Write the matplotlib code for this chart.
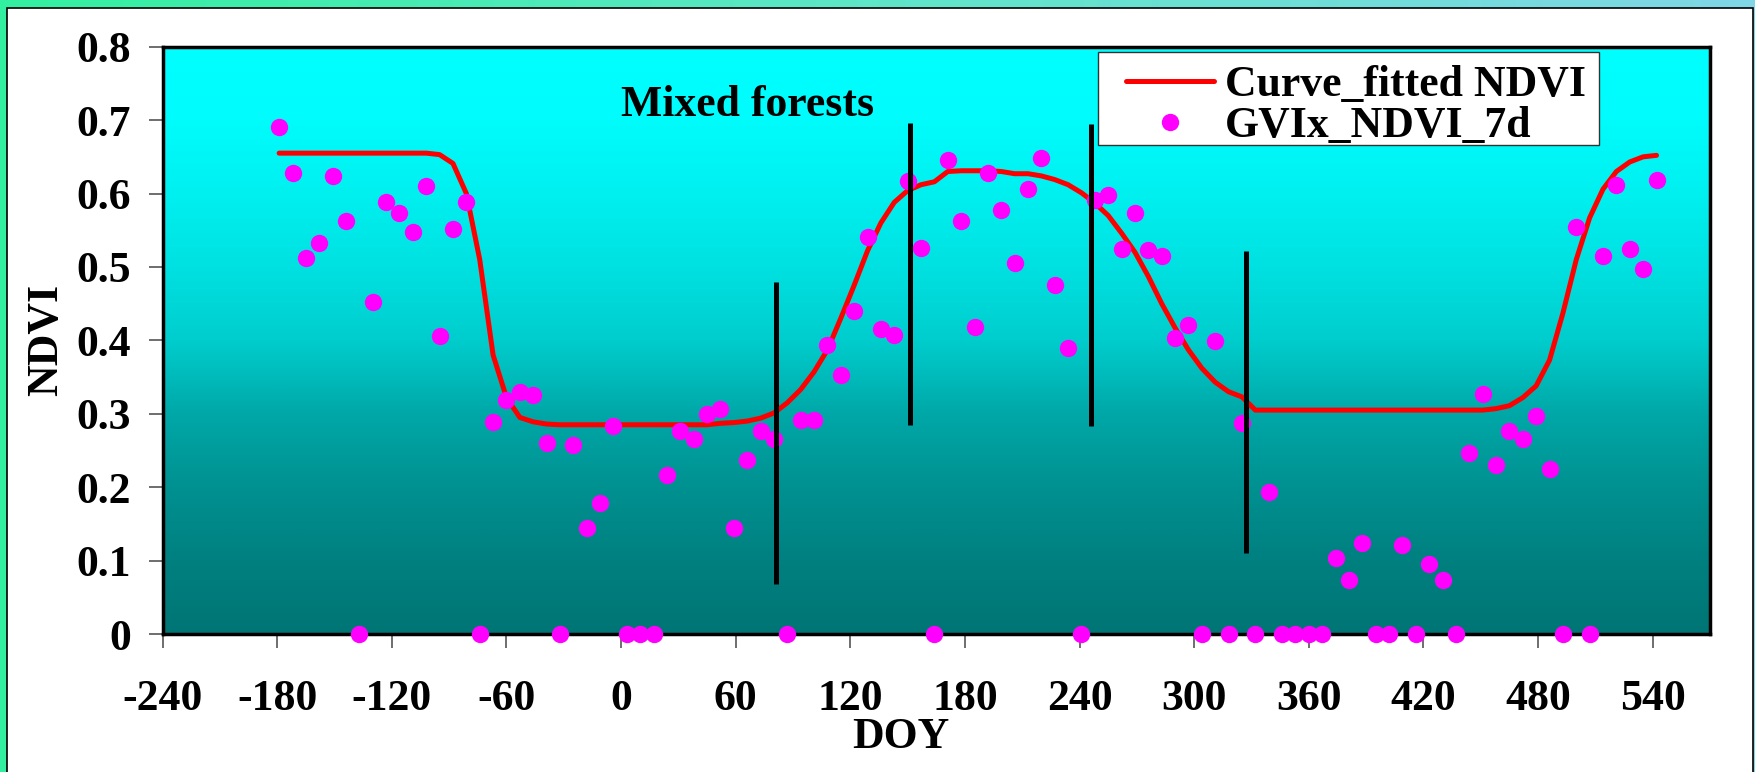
import numpy as np
import matplotlib
matplotlib.use('Agg')
import matplotlib.pyplot as plt
from matplotlib.colors import LinearSegmentedColormap
from matplotlib.patches import Rectangle

### Data
### -----------------------------
doy = [-179, -172, -165, -158, -151, -144, -137, -130, -123, -116, -109, -102,
       -95, -88, -81, -74, -67, -60, -53, -46, -39, -32, -25, -18, -11, -4,
       3, 10, 17, 24, 31, 38, 45, 52, 59, 66, 73, 80, 87, 94, 101, 108,
       115, 122, 129, 136, 143, 150, 157, 164, 171, 178, 185, 192, 199, 206,
       213, 220, 227, 234, 241, 248, 255, 262, 269, 276, 283, 290, 297, 304,
       311, 318, 325, 332, 339, 346, 353, 360, 367, 374, 381, 388, 395, 402,
       409, 416, 423, 430, 437, 444, 451, 458, 465, 472, 479, 486, 493, 500,
       507, 514, 521, 528, 535, 542]

ndvi_obs = [0.690, 0.628, 0.512, 0.533, 0.624, 0.563, 0.0, 0.452, 0.588, 0.573, 0.548, 0.610,
            0.406, 0.552, 0.588, 0.0, 0.289, 0.319, 0.330, 0.326, 0.260, 0.0, 0.257, 0.144, 0.179, 0.284,
            0.0, 0.0, 0.0, 0.216, 0.277, 0.266, 0.299, 0.306, 0.144, 0.237, 0.277, 0.266, 0.0, 0.291, 0.291, 0.393,
            0.353, 0.440, 0.541, 0.415, 0.407, 0.617, 0.526, 0.0, 0.646, 0.563, 0.418, 0.628, 0.577, 0.505,
            0.606, 0.649, 0.476, 0.389, 0.0, 0.591, 0.598, 0.525, 0.573, 0.523, 0.515, 0.403, 0.421, 0.0,
            0.399, 0.0, 0.287, 0.0, 0.193, 0.0, 0.0, 0.0, 0.0, 0.103, 0.074, 0.124, 0.0, 0.0,
            0.121, 0.0, 0.095, 0.074, 0.0, 0.247, 0.327, 0.230, 0.276, 0.265, 0.297, 0.225, 0.0, 0.554,
            0.0, 0.515, 0.612, 0.525, 0.497, 0.619]

ndvi_fit = [0.655, 0.655, 0.655, 0.655, 0.655, 0.655, 0.655, 0.655, 0.655, 0.655, 0.655, 0.655,
            0.653, 0.641, 0.600, 0.510, 0.380, 0.322, 0.295, 0.289, 0.286, 0.285, 0.285, 0.285, 0.285, 0.285,
            0.285, 0.285, 0.285, 0.285, 0.285, 0.285, 0.285, 0.287, 0.288, 0.290, 0.294, 0.301, 0.315, 0.333, 0.357, 0.387,
            0.430, 0.475, 0.522, 0.560, 0.588, 0.604, 0.612, 0.616, 0.630, 0.631, 0.631, 0.631, 0.630, 0.627,
            0.627, 0.624, 0.619, 0.612, 0.601, 0.587, 0.570, 0.546, 0.520, 0.487, 0.450, 0.417, 0.387, 0.362,
            0.343, 0.330, 0.323, 0.305, 0.305, 0.305, 0.305, 0.305, 0.305, 0.305, 0.305, 0.305, 0.305, 0.305,
            0.305, 0.305, 0.305, 0.305, 0.305, 0.305, 0.305, 0.307, 0.311, 0.322, 0.338, 0.373, 0.437, 0.510,
            0.567, 0.606, 0.630, 0.643, 0.650, 0.652]

### Season boundary markers
bound_doy = [81, 151, 246, 327]
bound_lo = [0.068, 0.285, 0.284, 0.111]
bound_hi = [0.479, 0.696, 0.695, 0.522]

x_ticks = [-240, -180, -120, -60, 0, 60, 120, 180, 240, 300, 360, 420, 480, 540]
y_ticks = [0, 0.1, 0.2, 0.3, 0.4, 0.5, 0.6, 0.7, 0.8]
y_labels = ['0', '0.1', '0.2', '0.3', '0.4', '0.5', '0.6', '0.7', '0.8']

### Style
### -----
plt.rcParams['font.family'] = ['Liberation Serif', 'DejaVu Serif']
plt.rcParams['font.weight'] = 'bold'
FS = 31.5

fig = plt.figure(figsize=(17.56, 7.72), dpi=100)

### Outer frame: green/blue band with a white panel on top
bg = fig.add_axes([0, 0, 1, 1], zorder=-5)
frame_cmap = LinearSegmentedColormap.from_list('frame', ['#33f0a0', '#5ee6c8', '#80d6e6'])
bg.imshow(np.linspace(0, 1, 256)[None, :], cmap=frame_cmap, aspect='auto',
          extent=[0, 1, 0, 1], origin='lower')
bg.add_patch(Rectangle((7.5/1756, -0.02), (1753 - 7.5)/1756, 1.02 - 7.5/772,
                       facecolor='white', edgecolor='black', lw=1.2))
bg.set_xlim(0, 1)
bg.set_ylim(0, 1)
bg.axis('off')

### Plot area
ax = fig.add_axes([162.6/1756, 1 - 634/772, (1710 - 162.6)/1756, (634 - 46.7)/772])
plot_cmap = LinearSegmentedColormap.from_list(
    'plotbg', [(0.0, '#007575'), (0.125, '#008080'), (0.25, '#009191'),
               (0.375, '#00a8a8'), (0.5, '#00cdcd'), (0.625, '#00e1e1'),
               (0.75, '#00f0f0'), (0.875, '#00fcfc'), (1.0, '#00ffff')])
ax.imshow(np.linspace(0, 1, 256)[:, None], cmap=plot_cmap, aspect='auto',
          extent=[-240, 570, 0, 0.8], origin='lower', zorder=0, interpolation='bicubic')

ax.plot(doy, ndvi_fit, color='#ff0000', lw=3.6, solid_joinstyle='round',
        solid_capstyle='round', zorder=3, label='Curve_fitted NDVI')
ax.plot(doy, ndvi_obs, 'o', color='#ff00ff', ms=12.5, mec='none', zorder=4,
        clip_on=False, label='GVIx_NDVI_7d')
ax.vlines(bound_doy, bound_lo, bound_hi, colors='black', lw=3.6, zorder=5)

ax.text(0, 0.706, 'Mixed forests', fontsize=FS, fontweight='bold',
        ha='left', va='baseline', zorder=6)

### Axes decoration
ax.set_xlim(-240, 570)
ax.set_ylim(0, 0.8)
ax.set_xticks(x_ticks)
ax.set_xticklabels([str(t) for t in x_ticks])
ax.set_yticks(y_ticks)
ax.set_yticklabels(y_labels)
ax.tick_params(direction='out', length=10, width=1.2, color='#555555', labelsize=FS)
ax.tick_params(axis='x', pad=22.5)
ax.tick_params(axis='y', pad=13)
for s in ax.spines.values():
    s.set_linewidth(2.5)
    s.set_color('black')

ax.set_xlabel('DOY', fontsize=FS, fontweight='bold', va='center')
ax.xaxis.set_label_coords(0.477, -0.176)
ax.set_ylabel('NDVI', fontsize=FS, fontweight='bold', va='center')
ax.yaxis.set_label_coords(-0.0754, 0.5)

### Legend with a square white box
ax.add_patch(Rectangle((0.6045, 0.8326), 0.9283 - 0.6045, 0.991 - 0.8326,
                       transform=ax.transAxes, facecolor='white',
                       edgecolor='#333333', lw=1.0, zorder=7))
leg = ax.legend(loc='upper left', bbox_to_anchor=(0.6226, 0.969), frameon=False,
                fontsize=FS, borderpad=0, borderaxespad=0, handlelength=2.0,
                handletextpad=0.26, labelspacing=0.03, numpoints=1)
leg.set_zorder(8)

fig.savefig('out.png', dpi=100)
